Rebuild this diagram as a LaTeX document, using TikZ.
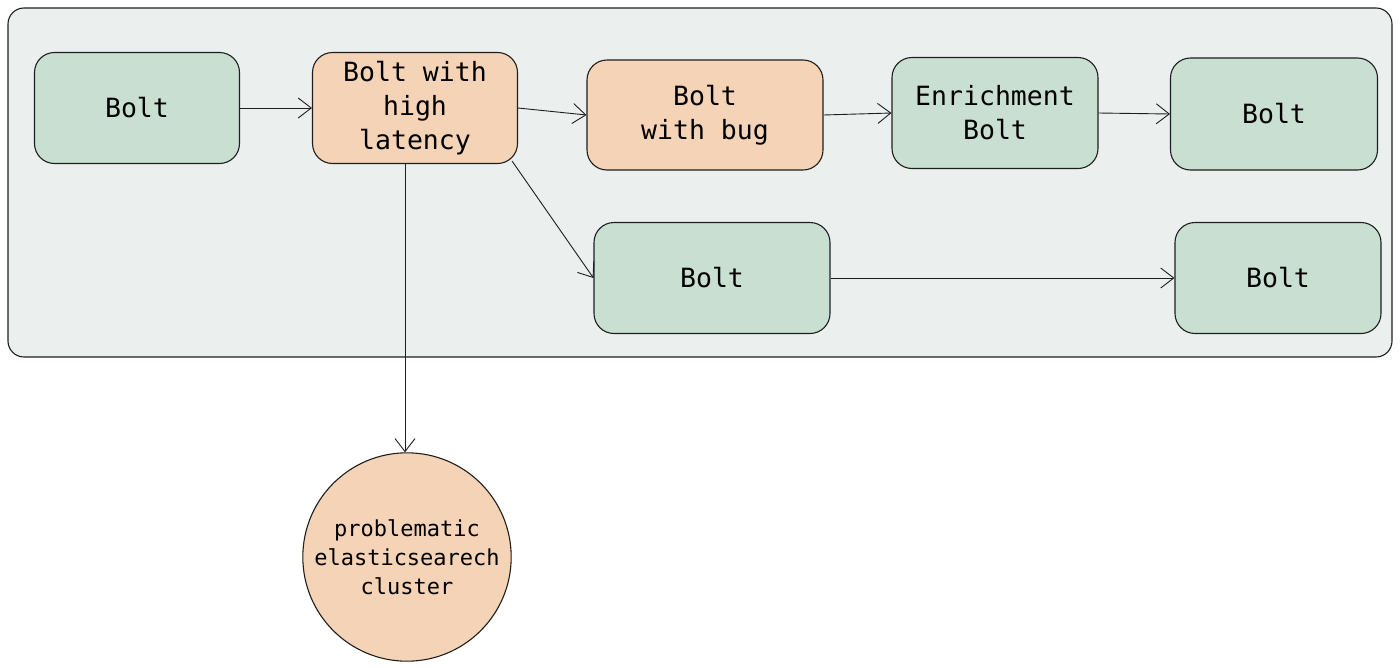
\documentclass[tikz,border=0pt]{standalone}
\usepackage{fontspec}
\setmonofont{DejaVu Sans Mono}
\usetikzlibrary{arrows.meta}
\definecolor{boltgreen}{HTML}{C9DFD2}
\definecolor{boltorange}{HTML}{F4D3B6}
\definecolor{panelgrey}{HTML}{EBF0EF}
\definecolor{inkline}{HTML}{1E1E1E}
\tikzset{
  bolt/.style={draw=inkline, line width=1.1pt, rounded corners=20pt,
    fill=boltgreen, align=center, font=\ttfamily\fontsize{26.5}{34}\selectfont},
  hotbolt/.style={bolt, fill=boltorange},
  flow/.style={draw=inkline, line width=0.9pt, -{Straight Barb[length=13pt,width=20pt]}}
}
\begin{document}
\begin{tikzpicture}[x=1pt,y=-1pt]
  \useasboundingbox (0,0) rectangle (1400,667);
  % topology panel
  \draw[draw=inkline, line width=1.1pt, fill=panelgrey, rounded corners=16pt]
    (8,8) rectangle (1392,357);
  \node[bolt, minimum width=205pt, minimum height=111pt] (spout) at (137,108) {Bolt};
  \node[hotbolt, minimum width=205pt, minimum height=111pt] (latency) at (415,108) {Bolt with\\high\\latency};
  \node[hotbolt, minimum width=236pt, minimum height=110pt] (bug) at (705,115) {Bolt\\with bug};
  \node[bolt, minimum width=206pt, minimum height=111pt] (enrich) at (995,113) {Enrichment\\Bolt};
  \node[bolt, minimum width=207pt, minimum height=112pt] (sinkA) at (1274,114) {Bolt};
  \node[bolt, minimum width=236pt, minimum height=111pt] (mid) at (712,278) {Bolt};
  \node[bolt, minimum width=206pt, minimum height=111pt] (sinkB) at (1278,278) {Bolt};
  % external cluster
  \node[circle, draw=inkline, line width=1.1pt, fill=boltorange, minimum size=206pt,
    align=center, font=\ttfamily\fontsize{22}{29}\selectfont] (es) at (407,557)
    {problematic\\elasticsearech\\cluster};
  % connections
  \draw[flow] (spout.east) -- (latency.west);
  \draw[flow] (latency.east) -- (bug.west);
  \draw[flow] (bug.east) -- (enrich.west);
  \draw[flow] (enrich.east) -- (sinkA.west);
  \draw[flow] (latency.south east) ++(-6,-3) -- (mid.west);
  \draw[flow] (mid.east) -- (sinkB.west);
  \draw[flow] (latency.south) ++(-10,0) -- (es.north -| 405,0);
\end{tikzpicture}
\end{document}
